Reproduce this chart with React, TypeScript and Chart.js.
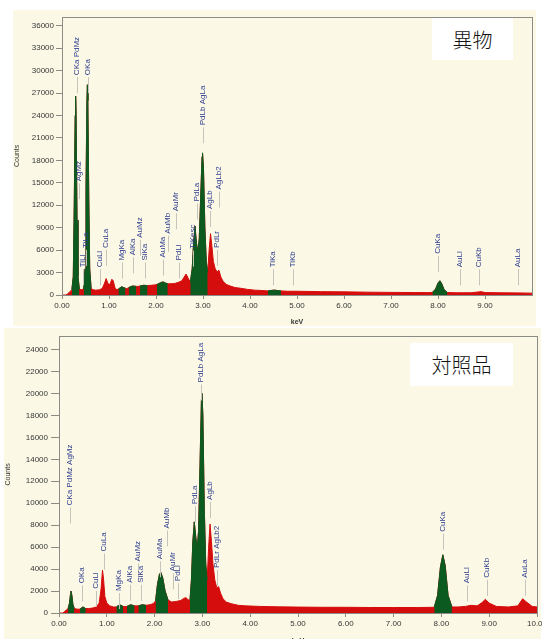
import React, { useEffect, useRef } from 'react';
import { Chart, registerables } from 'chart.js';
Chart.register(...registerables);

// ---------- 異物 (top) ----------
const topKev = [0.00, 0.08, 0.12, 0.16, 0.19, 0.21, 0.24, 0.26, 0.28, 0.29, 0.30, 0.32, 0.34, 0.37, 0.41, 0.46, 0.49, 0.51, 0.53, 0.54, 0.55, 0.57, 0.59, 0.62, 0.66, 0.72, 0.80, 0.86, 0.90, 0.94, 0.98, 1.02, 1.06, 1.09, 1.13, 1.17, 1.20, 1.27, 1.35, 1.38, 1.42, 1.50, 1.58, 1.62, 1.66, 1.74, 1.82, 1.90, 1.97, 2.02, 2.10, 2.15, 2.20, 2.25, 2.32, 2.40, 2.48, 2.55, 2.60, 2.64, 2.68, 2.73, 2.77, 2.80, 2.83, 2.86, 2.89, 2.92, 2.95, 2.98, 2.99, 3.01, 3.04, 3.07, 3.10, 3.13, 3.16, 3.19, 3.22, 3.26, 3.30, 3.34, 3.38, 3.43, 3.50, 3.58, 3.68, 3.80, 3.95, 4.10, 4.25, 4.38, 4.51, 4.66, 4.80, 5.00, 5.50, 6.00, 6.50, 7.00, 7.50, 7.80, 7.88, 7.95, 8.00, 8.04, 8.08, 8.13, 8.20, 8.40, 8.70, 8.85, 8.92, 9.00, 9.30, 9.70, 10.00];
const topCounts = [0, 0, 150, 400, 550, 700, 2500, 12000, 24000, 26600, 24000, 10000, 2500, 800, 700, 800, 3500, 14000, 26000, 28100, 26000, 13000, 3500, 900, 700, 650, 700, 900, 1500, 2200, 1500, 1400, 2100, 1900, 900, 700, 800, 1100, 900, 850, 1000, 1200, 1150, 1150, 1200, 1300, 1250, 1300, 1350, 1400, 1650, 1750, 1600, 1500, 1500, 1550, 1700, 1900, 2400, 2800, 2300, 1700, 3500, 7000, 9200, 7000, 5800, 7500, 13000, 18500, 19000, 17000, 9000, 4500, 3000, 6000, 8200, 6500, 4500, 3500, 3100, 3300, 2400, 1800, 1400, 1200, 1000, 900, 750, 650, 600, 550, 650, 550, 500, 500, 450, 420, 380, 350, 330, 320, 350, 800, 1600, 1900, 1500, 700, 330, 300, 300, 400, 450, 330, 300, 280, 250];
const topRoi = [[0.21, 0.37], [0.46, 0.62], [1.20, 1.35], [1.42, 1.58], [1.66, 1.82], [2.02, 2.25], [2.73, 3.10], [4.38, 4.66], [7.88, 8.20]];
const topYTicks = [0, 3000, 6000, 9000, 12000, 15000, 18000, 21000, 24000, 27000, 30000, 33000, 36000];
const topXTicks = [0, 1, 2, 3, 4, 5, 6, 7, 8, 9];
const topLabelNames = ['CKa PdMz', 'OKa', 'AgMz', 'TiLl', 'TiLa', 'CuLl', 'CuLa', 'MgKa', 'AlKa', 'AuMz', 'SiKa', 'AuMa', 'AuMb', 'AuMr', 'PdLl', 'TiKesc', 'PdLa', 'PdLb AgLa', 'AgLb', 'PdLr', 'AgLb2', 'TiKa', 'TiKb', 'CuKa', 'AuLl', 'CuKb', 'AuLa'];
const topLabelKev = [0.31, 0.55, 0.36, 0.45, 0.51, 0.81, 0.94, 1.28, 1.51, 1.66, 1.76, 2.15, 2.26, 2.43, 2.49, 2.79, 2.87, 3.00, 3.15, 3.30, 3.34, 4.49, 4.91, 8.00, 8.47, 8.87, 9.70];
const topLabelCounts = [29400, 29400, 15200, 3700, 6300, 3700, 6300, 4600, 5300, 7650, 4600, 5000, 8200, 11200, 4600, 6200, 12500, 22700, 11500, 6300, 14100, 3700, 3700, 5500, 3700, 3700, 3700];

// ---------- 対照品 (bottom) ----------
const botKev = [0.00, 0.08, 0.12, 0.16, 0.19, 0.22, 0.24, 0.25, 0.27, 0.29, 0.32, 0.38, 0.44, 0.50, 0.56, 0.62, 0.70, 0.78, 0.84, 0.88, 0.91, 0.93, 0.96, 1.00, 1.06, 1.14, 1.20, 1.27, 1.34, 1.38, 1.42, 1.50, 1.58, 1.62, 1.66, 1.74, 1.82, 1.90, 1.97, 2.02, 2.06, 2.10, 2.13, 2.17, 2.22, 2.28, 2.35, 2.45, 2.55, 2.62, 2.66, 2.70, 2.74, 2.77, 2.80, 2.83, 2.86, 2.89, 2.92, 2.95, 2.98, 2.99, 3.01, 3.04, 3.07, 3.10, 3.13, 3.16, 3.19, 3.22, 3.26, 3.30, 3.34, 3.38, 3.43, 3.50, 3.60, 3.75, 3.90, 4.20, 4.60, 5.00, 5.50, 6.00, 6.50, 7.00, 7.50, 7.85, 7.92, 7.98, 8.03, 8.08, 8.14, 8.22, 8.35, 8.50, 8.62, 8.75, 8.85, 8.92, 9.00, 9.15, 9.40, 9.60, 9.70, 9.78, 9.90, 10.00];
const botCounts = [0, 0, 150, 300, 400, 900, 1700, 2000, 1600, 800, 400, 350, 350, 550, 400, 400, 450, 550, 900, 2200, 3900, 3200, 1500, 900, 650, 550, 550, 750, 600, 580, 600, 750, 650, 650, 650, 750, 700, 750, 850, 1100, 2600, 3500, 3700, 3200, 2000, 1200, 1000, 1050, 1150, 1350, 1400, 1200, 1150, 3000, 6500, 8300, 7000, 5800, 7500, 13500, 19500, 20000, 18000, 9500, 4500, 3000, 6000, 8100, 6500, 4500, 3000, 2300, 2400, 1800, 1300, 1000, 850, 700, 650, 600, 560, 540, 520, 520, 500, 500, 500, 520, 1600, 4200, 5300, 4300, 1600, 550, 550, 600, 700, 650, 950, 1250, 900, 600, 550, 650, 1300, 1000, 600, 550];
const botRoi = [[0.19, 0.32], [0.44, 0.56], [1.20, 1.34], [1.42, 1.58], [1.66, 1.82], [2.02, 2.28], [2.74, 3.10], [7.85, 8.22]];
const botYTicks = [0, 2000, 4000, 6000, 8000, 10000, 12000, 14000, 16000, 18000, 20000, 22000, 24000];
const botXTicks = [0, 1, 2, 3, 4, 5, 6, 7, 8, 9, 10];
const botLabelNames = ['CKa PdMz AgMz', 'OKa', 'CuLl', 'CuLa', 'MgKa', 'AlKa', 'AuMz', 'SiKa', 'AuMa', 'AuMb', 'AuMr', 'PdLl', 'PdLa', 'PdLb AgLa', 'AgLb', 'PdLr AgLb2', 'CuKa', 'AuLl', 'CuKb', 'AuLa'];
const botLabelKev = [0.23, 0.48, 0.77, 0.94, 1.26, 1.49, 1.65, 1.72, 2.11, 2.26, 2.38, 2.49, 2.85, 2.97, 3.16, 3.31, 8.03, 8.54, 8.95, 9.75];
const botLabelCounts = [9800, 2700, 2200, 5600, 2000, 2750, 4700, 2750, 4900, 7700, 3800, 2900, 9900, 21000, 10300, 4100, 7400, 2700, 3200, 3200];

const RED = '#d60d0d';
const GREEN = '#0b5a1f';
const CREAM = '#fbf9e6';
const TXT = '#363636';
const LBL = '#2e3c8e';

function buildSeries(kev: number[], counts: number[], rois: number[][]) {
  const all = kev.map((x, i) => ({ x, y: counts[i] }));
  const green: any[] = [];
  rois.forEach(([a, b]) => {
    kev.forEach((x, i) => {
      if (x >= a - 1e-9 && x <= b + 1e-9) green.push({ x, y: counts[i] });
    });
    green.push({ x: b + 0.004, y: null });
  });
  return { all, green };
}

function labelPlugin(names: string[], kevs: number[], cnts: number[], size: number) {
  return {
    id: 'peakLabels',
    afterDatasetsDraw(chart: any) {
      const { ctx, scales } = chart;
      ctx.save();
      names.forEach((n, i) => {
        const x = scales.x.getPixelForValue(kevs[i]);
        const y = scales.y.getPixelForValue(cnts[i]);
        ctx.strokeStyle = '#c4c4bc';
        ctx.lineWidth = 1;
        ctx.beginPath();
        ctx.moveTo(Math.round(x) + 0.5, y + 2);
        ctx.lineTo(Math.round(x) + 0.5, Math.min(y + 18, chart.chartArea.bottom - 4));
        ctx.stroke();
        ctx.translate(x, y);
        ctx.rotate(-Math.PI / 2);
        ctx.fillStyle = LBL;
        ctx.font = `${size}px "Liberation Sans", Arial, sans-serif`;
        ctx.textAlign = 'left';
        ctx.textBaseline = 'middle';
        ctx.fillText(n, 0, 0);
        ctx.setTransform(1, 0, 0, 1, 0, 0);
      });
      ctx.restore();
    },
  };
}

const framePlugin = {
  id: 'frame',
  afterDatasetsDraw(chart: any) {
    const { ctx, chartArea: a } = chart;
    ctx.save();
    ctx.strokeStyle = '#8c8c86';
    ctx.lineWidth = 1;
    ctx.strokeRect(Math.round(a.left) + 0.5, Math.round(a.top) + 0.5, Math.round(a.right - a.left), Math.round(a.bottom - a.top));
    ctx.restore();
  },
};

type Props = {
  kev: number[]; counts: number[]; rois: number[][];
  names: string[]; lkev: number[]; lcnt: number[];
  w: number; h: number; pad: any; yW: number; xH: number;
  yMax: number; yTicks: number[]; xTicks: number[]; tickLenY: number; tickPadY: number;
};

function Spectrum(p: Props) {
  const ref = useRef<HTMLCanvasElement>(null);
  useEffect(() => {
    const { all, green } = buildSeries(p.kev, p.counts, p.rois);
    const font = { family: '"Liberation Sans", Arial, sans-serif', size: 8 };
    const chart = new Chart(ref.current as HTMLCanvasElement, {
      type: 'line',
      data: {
        datasets: [
          { data: green, borderColor: GREEN, backgroundColor: GREEN, fill: 'origin', pointRadius: 0, borderWidth: 1, spanGaps: false, tension: 0 },
          { data: all, borderColor: RED, backgroundColor: RED, fill: 'origin', pointRadius: 0, borderWidth: 1, tension: 0 },
        ],
      } as any,
      options: {
        animation: false,
        responsive: false,
        maintainAspectRatio: false,
        events: [],
        layout: { padding: p.pad },
        plugins: { legend: { display: false }, tooltip: { enabled: false } },
        scales: {
          x: {
            type: 'linear', min: 0, max: 10,
            afterFit: (s: any) => { s.height = p.xH; },
            afterBuildTicks: (s: any) => { s.ticks = p.xTicks.map((v) => ({ value: v })); },
            border: { display: false },
            grid: { display: true, drawOnChartArea: false, drawTicks: true, tickLength: 4, color: '#8c8c86' },
            ticks: {
              maxRotation: 0, autoSkip: false, padding: 2, color: TXT, font,
              callback: (v: any) => Number(v).toFixed(2),
            },
            title: { display: true, text: 'keV', color: TXT, padding: 0, font: { family: font.family, size: 7, weight: 'bold' } },
          },
          y: {
            min: 0, max: p.yMax,
            afterFit: (s: any) => { s.width = p.yW; },
            afterBuildTicks: (s: any) => { s.ticks = p.yTicks.map((v) => ({ value: v })); },
            border: { display: false },
            grid: { display: true, drawOnChartArea: false, drawTicks: true, tickLength: p.tickLenY, color: '#8c8c86' },
            ticks: { autoSkip: false, padding: p.tickPadY, color: TXT, font, callback: (v: any) => String(v) },
            title: { display: true, text: 'Counts', color: TXT, padding: 0, font: { family: font.family, size: 7 } },
          },
        },
      } as any,
      plugins: [labelPlugin(p.names, p.lkev, p.lcnt, 8), framePlugin],
    });
    return () => chart.destroy();
  }, []);
  return <canvas ref={ref} width={p.w} height={p.h} style={{ width: p.w, height: p.h, display: 'block' }} />;
}

export default function App() {
  const boxText: React.CSSProperties = {
    position: 'absolute', background: '#ffffff', display: 'flex', alignItems: 'center', justifyContent: 'center',
    fontFamily: '"Noto Sans CJK JP", sans-serif', fontWeight: 300, fontSize: 20, color: '#111',
  };
  return (
    <div style={{ position: 'absolute', left: 0, top: 0, width: 542, height: 639, overflow: 'hidden', background: '#fff' }}>
      <div style={{ position: 'absolute', left: 13, top: 10, width: 523, height: 316, background: CREAM }} />
      <div style={{ position: 'absolute', left: 4, top: 328, width: 537, height: 311, background: CREAM }} />
      <div style={{ position: 'absolute', left: 13, top: 10 }}>
        <Spectrum kev={topKev} counts={topCounts} rois={topRoi} names={topLabelNames} lkev={topLabelKev} lcnt={topLabelCounts}
          w={522} h={316} pad={{ left: 0, right: 3, top: 3, bottom: 0 }} yW={49} xH={31} yMax={37200} yTicks={topYTicks} xTicks={topXTicks} tickLenY={6} tickPadY={2} />
      </div>
      <div style={{ position: 'absolute', left: 4, top: 328 }}>
        <Spectrum kev={botKev} counts={botCounts} rois={botRoi} names={botLabelNames} lkev={botLabelKev} lcnt={botLabelCounts}
          w={560} h={317} pad={{ left: 0, right: 27, top: 2, bottom: 0 }} yW={55} xH={32} yMax={25250} yTicks={botYTicks} xTicks={botXTicks} tickLenY={8} tickPadY={3} />
      </div>
      <div style={{ ...boxText, left: 432, top: 18, width: 81, height: 42 }}>異物</div>
      <div style={{ ...boxText, left: 410, top: 343, width: 103, height: 43 }}>対照品</div>
    </div>
  );
}
